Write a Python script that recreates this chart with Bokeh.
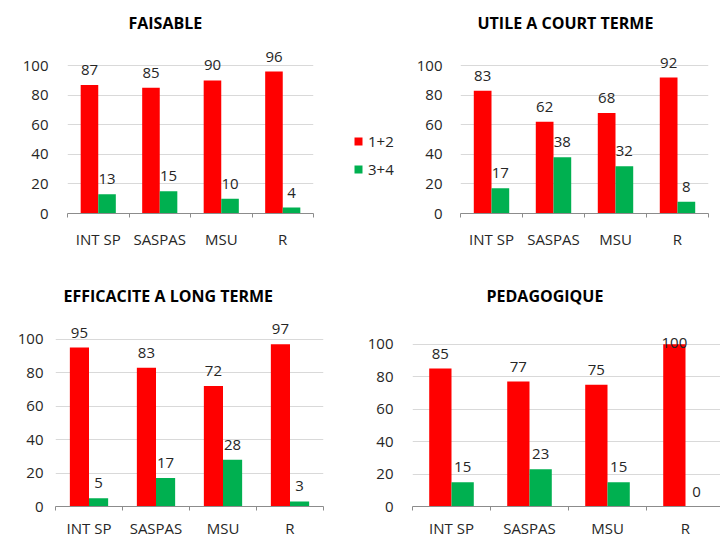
from bokeh.plotting import figure
from bokeh.models import Range1d, FixedTicker, ColumnDataSource, Legend, LegendItem
from bokeh.layouts import row, column
from bokeh.embed import file_html
from bokeh.resources import INLINE
from bokeh.core.properties import value

categories = ["INT SP", "SASPAS", "MSU", "R"]
titles = ["FAISABLE", "UTILE A COURT TERME", "EFFICACITE A LONG TERME", "PEDAGOGIQUE"]
series_names = ["1+2", "3+4"]
faisable_12 = [87, 85, 90, 96]
faisable_34 = [13, 15, 10, 4]
utile_12 = [83, 62, 68, 92]
utile_34 = [17, 38, 32, 8]
efficacite_12 = [95, 83, 72, 97]
efficacite_34 = [5, 17, 28, 3]
pedago_12 = [85, 77, 75, 100]
pedago_34 = [15, 23, 15, 0]
y_ticks = [0, 20, 40, 60, 80, 100]

RED = "#FF0000"
GREEN = "#00B050"
FONT = "Open Sans"
TXT = "#262626"
AXIS = "#8C8C8C"

BAR_W = 1 / 3.5
X_POS = list(range(1, len(categories) + 1))


def make_panel(title, s12, s34, width, height, bl, br, bt, bb, x_end, y_end,
               ystand, xstand, title_offset, title_standoff):
    p = figure(width=width, height=height, output_backend="svg", toolbar_location=None,
               x_range=Range1d(0.5, x_end), y_range=Range1d(0, y_end),
               min_border_left=bl, min_border_right=br, min_border_top=bt,
               min_border_bottom=bb, title=title)
    p.outline_line_color = None
    p.background_fill_color = "white"
    p.border_fill_color = "white"
    p.title.text_font = FONT
    p.title.text_font_size = "16px"
    p.title.text_font_style = "bold"
    p.title.text_color = "black"
    p.title.align = "left"
    p.title.offset = title_offset
    p.title.standoff = title_standoff

    x = X_POS
    x12 = [v - BAR_W / 2 for v in x]
    x34 = [v + BAR_W / 2 for v in x]

    def offs(vals):
        return [4 if v >= 99 else -10 for v in vals]

    src12 = ColumnDataSource(dict(x=x12, top=s12, lab=[str(v) for v in s12], off=offs(s12)))
    src34 = ColumnDataSource(dict(x=x34, top=s34, lab=[str(v) for v in s34], off=offs(s34)))
    p.vbar(x="x", top="top", width=BAR_W, bottom=0, source=src12,
           fill_color=RED, line_color=None)
    p.vbar(x="x", top="top", width=BAR_W, bottom=0, source=src34,
           fill_color=GREEN, line_color=None)
    for src in (src12, src34):
        p.text(x="x", y="top", text="lab", source=src, text_align="center",
               text_baseline="bottom", y_offset="off", text_font=value(FONT),
               text_font_size="15px", text_color=TXT)

    # y axis
    p.yaxis.ticker = FixedTicker(ticks=y_ticks)
    p.yaxis.axis_line_color = None
    p.yaxis.major_tick_line_color = None
    p.yaxis.minor_tick_line_color = None
    p.yaxis.major_tick_out = 0
    p.yaxis.major_tick_in = 0
    p.yaxis.minor_tick_out = 0
    p.yaxis.minor_tick_in = 0
    p.yaxis.major_label_standoff = ystand
    p.yaxis.major_label_text_font = FONT
    p.yaxis.major_label_text_font_size = "15px"
    p.yaxis.major_label_text_color = TXT
    p.ygrid.grid_line_color = "#D9D9D9"
    p.ygrid.grid_line_width = 1
    p.xgrid.grid_line_color = None

    # x axis
    p.xaxis.ticker = FixedTicker(ticks=x, minor_ticks=[v - 0.5 for v in x] + [x[-1] + 0.5])
    p.xaxis.major_label_overrides = {v: c for v, c in zip(x, categories)}
    p.xaxis.major_tick_line_color = None
    p.xaxis.major_tick_out = 0
    p.xaxis.major_tick_in = 0
    p.xaxis.minor_tick_in = 0
    p.xaxis.minor_tick_out = 4
    p.xaxis.minor_tick_line_color = AXIS
    p.xaxis.axis_line_color = AXIS
    p.xaxis.major_label_standoff = xstand
    p.xaxis.major_label_text_font = FONT
    p.xaxis.major_label_text_font_size = "15px"
    p.xaxis.major_label_text_color = TXT
    return p


def make_legend_panel(width, height, bt, bb):
    p = figure(width=width, height=height, output_backend="svg", toolbar_location=None,
               x_range=Range1d(0, 1), y_range=Range1d(0, 1),
               x_axis_location=None, y_axis_location=None,
               min_border_left=0, min_border_right=0, min_border_top=bt,
               min_border_bottom=bb)
    p.outline_line_color = None
    p.xgrid.visible = False
    p.ygrid.visible = False
    # legend proxies (hidden renderers carrying the series' style)
    r12 = p.vbar(x=X_POS, top=faisable_12, width=BAR_W, fill_color=RED, line_color=None,
                 visible=False)
    r34 = p.vbar(x=X_POS, top=faisable_34, width=BAR_W, fill_color=GREEN, line_color=None,
                 visible=False)
    lg = Legend(items=[LegendItem(label=series_names[0], renderers=[r12]),
                       LegendItem(label=series_names[1], renderers=[r34])],
                location=(8, 34))
    lg.background_fill_alpha = 0
    lg.border_line_color = None
    lg.padding = 0
    lg.margin = 0
    lg.glyph_width = 10
    lg.glyph_height = 10
    lg.label_height = 20
    lg.spacing = 8
    lg.label_standoff = 5
    lg.label_text_font = FONT
    lg.label_text_font_size = "15px"
    lg.label_text_color = TXT
    p.add_layout(lg, "center")
    return p


p1 = make_panel(titles[0], faisable_12, faisable_34, 345, 270, 67, 32, 43, 57, 4.5, 115,
                19, 11, 61, 19)
pl = make_legend_panel(65, 270, 43, 57)
p2 = make_panel(titles[1], utile_12, utile_34, 310, 270, 50, 12, 43, 57, 4.5, 115,
                18, 11, 17, 19)
p3 = make_panel(titles[2], efficacite_12, efficacite_34, 345, 270, 55, 22, 45, 32, 4.5, 114.2,
                12, 7, 8, 17)
p4 = make_panel(titles[3], pedago_12, pedago_34, 375, 270, 67, 0, 45, 32, 0.5 + 308 / 78, 117.7,
                19, 7, 74, 17)

layout = column(row(p1, pl, p2), row(p3, p4))
open("out.html", "w").write(file_html(layout, INLINE))
